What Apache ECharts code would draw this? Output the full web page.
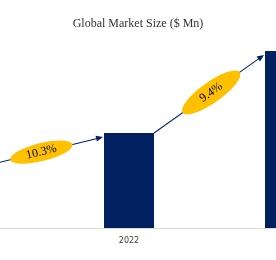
<!DOCTYPE html>
<html><head><meta charset="utf-8">
<script src="https://cdn.jsdelivr.net/npm/echarts@6/dist/echarts.min.js"></script>
<style>html,body{margin:0;padding:0;background:#fff}#c{width:276px;height:260px}</style>
</head><body><div id="c"></div>
<script>
const years = ['2018', '2022', '2030'];
const marketSize = [674, 1000, 1863];
const cagrLabels = ['10.3%', '9.4%'];

const NAVY = '#002060', GOLD = '#FFC000';
const BAR_W = 50;
// visible window of the category positions (0 = 2018, 1 = 2022, 2 = 2030)
const X_MIN = 0.1988, X_MAX = 1.9130;
const chart = echarts.init(document.getElementById('c'), null, {renderer: 'canvas'});
chart.setOption({
  animation: false,
  title: {text: 'Global Market Size ($ Mn)', left: 'center', top: 13,
    textStyle: {fontFamily: 'Liberation Serif', fontSize: 12, fontWeight: 'normal', color: '#333'}},
  grid: {left: 0, right: 0, top: 0, bottom: 32},
  xAxis: {type: 'value', min: X_MIN, max: X_MAX, splitLine: {show: false},
    axisLine: {show: true, onZero: false, lineStyle: {color: '#d9d9d9'}}, axisTick: {show: false},
    axisLabel: {customValues: years.map((_, i) => i), formatter: v => years[Math.round(v)],
      fontFamily: 'DejaVu Sans', fontSize: 8, color: '#404040', margin: 9}},
  yAxis: {type: 'value', min: 0, max: 2400, show: false, splitLine: {show: false}},
  series: [{type: 'bar', data: marketSize.map((v, i) => [i, v]), barWidth: BAR_W, clip: true,
    itemStyle: {color: NAVY}}]
});

// [semi-major, semi-minor, font size, position along arrow]
const ellipseStyle = [[32, 9, 12, 0.44], [35, 10.5, 12, 0.52]];
const g = [];
for (let i = 0; i < marketSize.length - 1; i++) {
  const p1 = chart.convertToPixel({gridIndex: 0}, [i, marketSize[i]]);
  const p2 = chart.convertToPixel({gridIndex: 0}, [i + 1, marketSize[i + 1]]);
  const x1 = p1[0] + BAR_W / 2, y1 = p1[1];
  const x2 = p2[0] - BAR_W / 2 - 1, y2 = p2[1] + 4;
  const ang = Math.atan2(y1 - y2, x2 - x1);
  const len = Math.hypot(x2 - x1, y2 - y1);
  g.push({type: 'group', x: x1, y: y1, rotation: ang, children: [
    {type: 'line', shape: {x1: 0, y1: 0, x2: len - 5, y2: 0}, style: {stroke: NAVY, lineWidth: 1}},
    {type: 'polygon', shape: {points: [[len, 0], [len - 7, -3], [len - 7, 3]]}, style: {fill: NAVY}}
  ]});
  const [a, b, fs, f] = ellipseStyle[i];
  g.push({type: 'group', x: x1 + (x2 - x1) * f, y: y1 + (y2 - y1) * f, rotation: ang, children: [
    {type: 'circle', shape: {cx: 0, cy: 0, r: 10}, scaleX: a / 10, scaleY: b / 10, style: {fill: GOLD}},
    {type: 'text', x: 0, y: 0, style: {text: cagrLabels[i], fill: '#000', font: fs + 'px "Liberation Serif"', textAlign: 'center', textVerticalAlign: 'middle'}}
  ]});
}
chart.setOption({graphic: g});
</script></body></html>
